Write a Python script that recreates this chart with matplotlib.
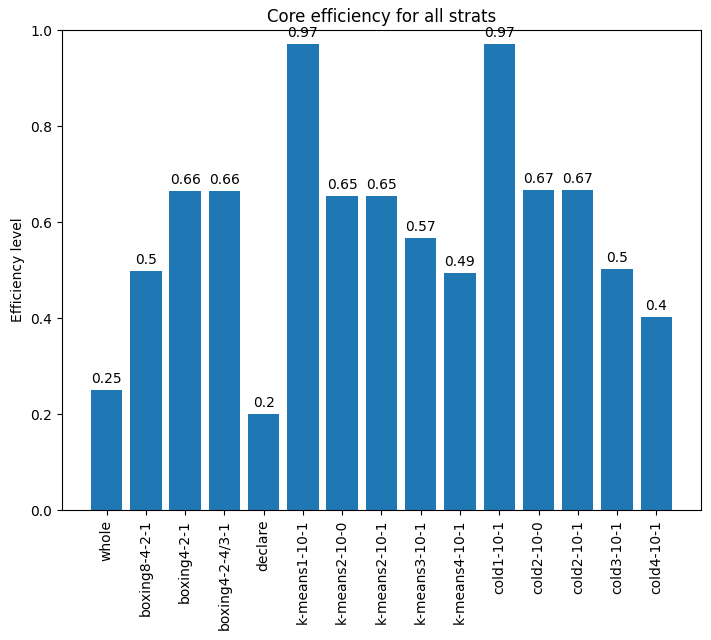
import numpy as np
import matplotlib.pyplot as plt

strats = ['whole', 'boxing8-4-2-1', 'boxing4-2-1', 'boxing4-2-4/3-1', 'declare',
          'k-means1-10-1', 'k-means2-10-0', 'k-means2-10-1', 'k-means3-10-1',
          'k-means4-10-1', 'cold1-10-1', 'cold2-10-0', 'cold2-10-1', 'cold3-10-1',
          'cold4-10-1']
efficiency = [0.25, 0.498, 0.664, 0.664, 0.2, 0.97, 0.654, 0.654, 0.567, 0.493,
              0.97, 0.666, 0.666, 0.502, 0.402]

fig = plt.figure(figsize=(7.11, 6.4), dpi=100)
ax = fig.add_axes([0.087, 0.203, 0.899, 0.75])
bars = ax.bar(strats, efficiency)
ax.bar_label(bars, labels=[str(round(v, 2)) for v in efficiency], padding=3)
ax.set_ylim(0, 1)
ax.set_ylabel('Efficiency level')
ax.set_title('Core efficiency for all strats')
plt.xticks(rotation=90)
fig.savefig('out.png')
